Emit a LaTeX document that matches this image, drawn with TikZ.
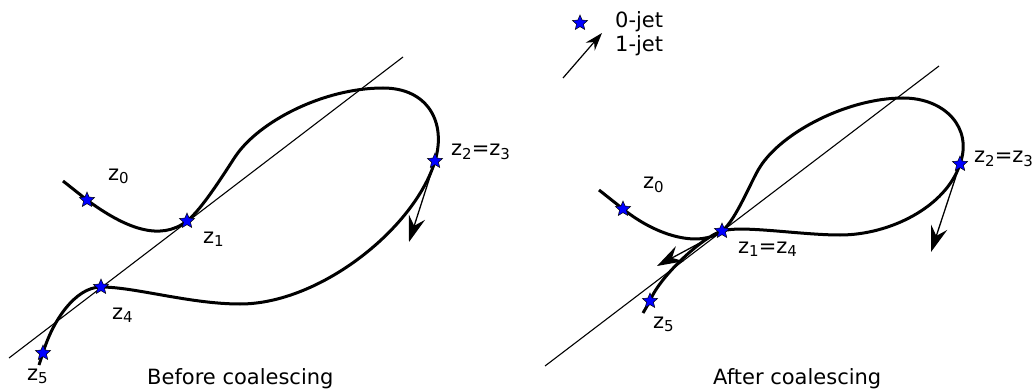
\documentclass[tikz,border=0pt]{standalone}
\usepackage{fontspec}
\setmainfont{DejaVu Sans}
\usetikzlibrary{shapes.geometric,arrows.meta}
\newcommand\zsb[1]{\raisebox{-0.3ex}{\fontsize{15}{15}\selectfont #1}}
\begin{document}
\begin{tikzpicture}[x=1pt,y=-1pt,
  jetstar/.style={star,star points=5,star point ratio=2.2,minimum size=16pt,inner sep=0pt,fill=blue,draw=black,line width=0.5pt},
  curve/.style={line width=3pt},
  tline/.style={line width=1.1pt},
  jet/.style={line width=1.3pt,-{Stealth[length=26pt,width=17pt,inset=9pt]}},
  smalljet/.style={line width=1.2pt,-{Stealth[length=18pt,width=12pt,inset=6pt]}},
  lbl/.style={anchor=base west,inner sep=0pt,font=\fontsize{21}{25}\selectfont}]
\path[use as bounding box] (0,0) rectangle (1032,390);
% ---------- left: before coalescing
\coordinate (lL1) at (9,358);
\coordinate (lL2) at (403,57);
\coordinate (lS) at (63,181);
\coordinate (lz0) at (87,200);
\coordinate (lz1) at (187,221);
\coordinate (lA) at (235,157);
\coordinate (lT) at (383,88);
\coordinate (lz2) at (435,161);
\coordinate (lB) at (240,304);
\coordinate (lz4) at (101,287);
\coordinate (lz5) at (43,353);
\coordinate (lE) at (39,365);
\coordinate (la2) at (409,242);
\draw[tline] (lL1) -- (lL2);
\draw[curve] (lS) -- (lz0) .. controls (125,228) and (160,242) .. (lz1)
  .. controls (202,209.5) and (226.7,169.5) .. (lA)
  .. controls (258,122) and (323,88) .. (lT)
  .. controls (428,88) and (446.6,122.6) .. (lz2)
  .. controls (414.7,228.2) and (320,304) .. (lB)
  .. controls (190,304) and (135,287) .. (lz4)
  .. controls (75,287) and (52,322) .. (lz5) -- (lE);
\draw[jet] (lz2) -- (la2);
\foreach \p in {lz0,lz1,lz2,lz4,lz5} \node[jetstar] (s\p) at (\p) {};
\node[lbl] (tlz0) at (108,180) {z\zsb{0}};
\node[lbl] (tlz1) at (203,243) {z\zsb{1}};
\node[lbl] (tlz2) at (451,156) {z\zsb{2}=z\zsb{3}};
\node[lbl] (tlz4) at (112,319) {z\zsb{4}};
\node[lbl] (tlz5) at (27,380) {z\zsb{5}};
\node[lbl] (tbefore) at (147,384.5) {Before coalescing};
% ---------- right: after coalescing
\coordinate (rL1) at (545,366);
\coordinate (rL2) at (939,66);
\coordinate (rS) at (599,190);
\coordinate (rz0) at (623,209);
\coordinate (rz1) at (722,231);
\coordinate (rA) at (760,167);
\coordinate (rT) at (903,98);
\coordinate (rz2) at (960,164);
\coordinate (rB) at (840,235);
\coordinate (rz5) at (650,301);
\coordinate (rE) at (643,313);
\coordinate (ra1) at (657,266);
\coordinate (ra2) at (931,252);
\draw[tline] (rL1) -- (rL2);
\draw[curve] (rS) -- (rz0) .. controls (658,237) and (700,247.7) .. (rz1)
  .. controls (736,220.3) and (751.7,179.5) .. (rA)
  .. controls (782,132) and (848,98) .. (rT)
  .. controls (945,98) and (973,128) .. (rz2)
  .. controls (946,206.8) and (890,235) .. (rB)
  .. controls (800,235) and (742,225) .. (rz1)
  .. controls (702,237) and (658.8,277.5) .. (rz5) -- (rE);
\draw[jet] (rz2) -- (ra2);
\draw[jet] (rz1) -- (ra1);
\foreach \p in {rz0,rz1,rz2,rz5} \node[jetstar] (s\p) at (\p) {};
\node[lbl] (trz0) at (643,189) {z\zsb{0}};
\node[lbl] (trz1) at (738,253) {z\zsb{1}=z\zsb{4}};
\node[lbl] (trz2) at (974,163) {z\zsb{2}=z\zsb{3}};
\node[lbl] (trz5) at (653,328) {z\zsb{5}};
\node[lbl] (tafter) at (713,384.5) {After coalescing};
% ---------- legend
\node[jetstar] (legstar) at (580,23) {};
\coordinate (legA) at (563,78);
\coordinate (legB) at (602,33);
\draw[smalljet] (legA) -- (legB);
\node[lbl] (leg0) at (615,28) {0-jet};
\node[lbl] (leg1) at (615,52) {1-jet};
\end{tikzpicture}
\end{document}
